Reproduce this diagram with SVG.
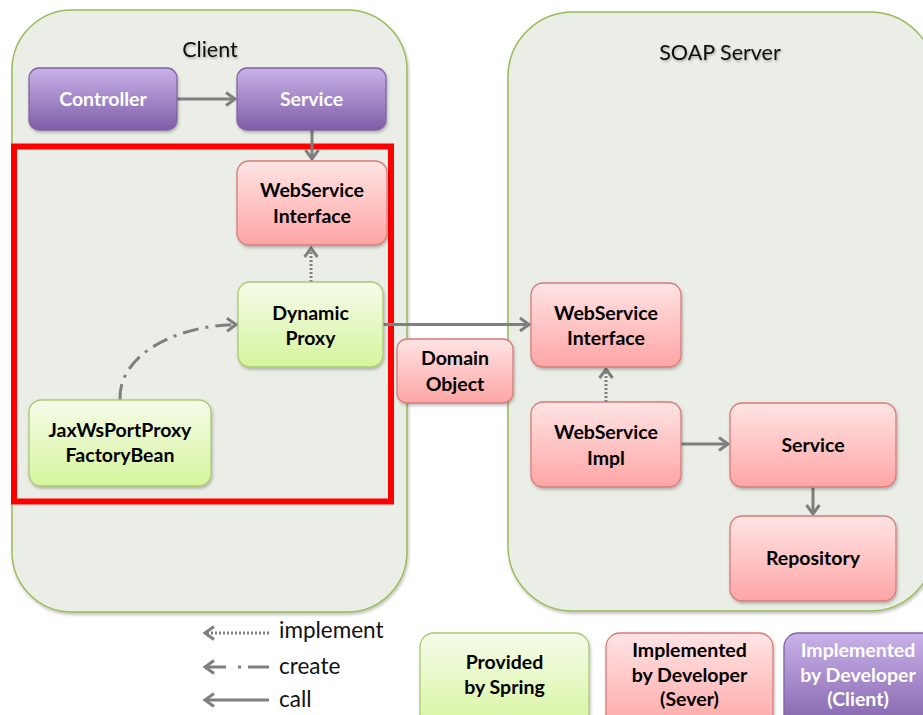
<svg xmlns="http://www.w3.org/2000/svg" width="923" height="715" viewBox="0 0 923 715">
  <defs>
    <linearGradient id="gPink" x1="0" y1="0" x2="0" y2="1">
      <stop offset="0" stop-color="#FFE4E4"/>
      <stop offset="1" stop-color="#FFA5A5"/>
    </linearGradient>
    <linearGradient id="gGreen" x1="0" y1="0" x2="0" y2="1">
      <stop offset="0" stop-color="#F6FBEA"/>
      <stop offset="1" stop-color="#D5F59C"/>
    </linearGradient>
    <linearGradient id="gPurple" x1="0" y1="0" x2="0" y2="1">
      <stop offset="0" stop-color="#C9B2EA"/>
      <stop offset="1" stop-color="#7E5EA7"/>
    </linearGradient>
    <filter id="sh" x="-10%" y="-10%" width="125%" height="130%">
      <feDropShadow dx="1" dy="2" stdDeviation="1.5" flood-color="#000" flood-opacity="0.25"/>
    </filter>
    <filter id="tsh" x="-10%" y="-30%" width="120%" height="170%">
      <feDropShadow dx="1" dy="1.5" stdDeviation="1" flood-color="#000" flood-opacity="0.3"/>
    </filter>
    <marker id="ah" viewBox="-12 -9 15 18" refX="0" refY="0" markerWidth="15" markerHeight="18" markerUnits="userSpaceOnUse" orient="auto">
      <path d="M-9,-6.5 L0,0 L-9,6.5" fill="none" stroke="#7F7F7F" stroke-width="3"/>
    </marker>
    <style>
      .cont { fill: #EBEEE6; stroke: #9BBB59; stroke-width: 1.5; }
      .title { font-family: Lato, "Open Sans", sans-serif; font-size: 21.5px; fill: #111; text-anchor: middle; }
      .pink { fill: url(#gPink); stroke: #D97A7A; stroke-width: 1.3; }
      .green { fill: url(#gGreen); stroke: #A9C973; stroke-width: 1.3; }
      .purple { fill: url(#gPurple); stroke: #8064A2; stroke-width: 1.3; }
      .lbl { font-family: Lato, "Open Sans", sans-serif; font-weight: bold; font-size: 19.5px; fill: #000; text-anchor: middle; }
      .wlbl { font-family: Lato, "Open Sans", sans-serif; font-weight: bold; font-size: 19.5px; fill: #FFFFFF; text-anchor: middle; }
      .leg { font-family: Lato, "Open Sans", sans-serif; font-size: 22.5px; fill: #111; }
      .call { fill: none; stroke: #7F7F7F; stroke-width: 3; }
      .impl { fill: none; stroke: #7F7F7F; stroke-width: 3; stroke-dasharray: 2 2; }
      .create { fill: none; stroke: #7F7F7F; stroke-width: 3; stroke-dasharray: 16 7 3 7; }
    </style>
  </defs>

  <!-- containers -->
  <g id="client-container">
    <rect class="cont" x="12" y="10" width="395" height="602" rx="60" filter="url(#sh)"/>
    <text class="title" x="210" y="57" filter="url(#tsh)">Client</text>
  </g>
  <g id="server-container">
    <rect class="cont" x="508" y="12" width="427" height="599" rx="65" filter="url(#sh)"/>
    <text class="title" x="720" y="60" filter="url(#tsh)">SOAP Server</text>
  </g>

  <!-- red highlight -->
  <g id="highlight">
    <rect x="14" y="146.5" width="377" height="355" fill="none" stroke="#FF0000" stroke-width="6"/>
  </g>

  <!-- connectors -->
  <g id="connectors">
    <line class="call" x1="177" y1="99" x2="235" y2="99" marker-end="url(#ah)"/>
    <line class="call" x1="312" y1="130" x2="312" y2="159" marker-end="url(#ah)"/>
    <line class="impl" x1="311" y1="282" x2="311" y2="248" marker-end="url(#ah)"/>
    <path class="create" d="M120,400 C118,358 170,326 236,324.5" marker-end="url(#ah)"/>
    <line class="call" x1="383" y1="324.5" x2="529" y2="324.5" marker-end="url(#ah)"/>
    <line class="impl" x1="606" y1="402" x2="606" y2="369" marker-end="url(#ah)"/>
    <line class="call" x1="681" y1="444" x2="728" y2="444" marker-end="url(#ah)"/>
    <line class="call" x1="813" y1="487" x2="813" y2="514" marker-end="url(#ah)"/>
  </g>

  <!-- client nodes -->
  <g id="controller">
    <rect class="purple" x="29" y="68" width="148" height="62" rx="10" filter="url(#sh)"/>
    <text class="wlbl" x="103" y="106">Controller</text>
  </g>
  <g id="client-service">
    <rect class="purple" x="237" y="68" width="149" height="62" rx="10" filter="url(#sh)"/>
    <text class="wlbl" x="311.5" y="106">Service</text>
  </g>
  <g id="client-ws-interface">
    <rect class="pink" x="237" y="161" width="150" height="84" rx="12" filter="url(#sh)"/>
    <text class="lbl" x="312" y="197">WebService</text>
    <text class="lbl" x="312" y="222.5">Interface</text>
  </g>
  <g id="dynamic-proxy">
    <rect class="green" x="238" y="282" width="145" height="85" rx="12" filter="url(#sh)"/>
    <text class="lbl" x="310.5" y="320">Dynamic</text>
    <text class="lbl" x="310.5" y="344.5">Proxy</text>
  </g>
  <g id="factory-bean">
    <rect class="green" x="29" y="400" width="182" height="86" rx="12" filter="url(#sh)"/>
    <text class="lbl" x="120" y="437">JaxWsPortProxy</text>
    <text class="lbl" x="120" y="462">FactoryBean</text>
  </g>

  <!-- middle -->
  <g id="domain-object">
    <rect class="pink" x="397" y="339" width="116" height="64" rx="10" filter="url(#sh)"/>
    <text class="lbl" x="455" y="365">Domain</text>
    <text class="lbl" x="455" y="390.5">Object</text>
  </g>

  <!-- server nodes -->
  <g id="server-ws-interface">
    <rect class="pink" x="531" y="283" width="150" height="84" rx="12" filter="url(#sh)"/>
    <text class="lbl" x="606" y="320">WebService</text>
    <text class="lbl" x="606" y="345">Interface</text>
  </g>
  <g id="ws-impl">
    <rect class="pink" x="531" y="402" width="150" height="85" rx="12" filter="url(#sh)"/>
    <text class="lbl" x="606" y="439">WebService</text>
    <text class="lbl" x="606" y="464.5">Impl</text>
  </g>
  <g id="server-service">
    <rect class="pink" x="730" y="403" width="166" height="84" rx="12" filter="url(#sh)"/>
    <text class="lbl" x="813" y="452">Service</text>
  </g>
  <g id="repository">
    <rect class="pink" x="730" y="516" width="166" height="85" rx="12" filter="url(#sh)"/>
    <text class="lbl" x="813" y="565">Repository</text>
  </g>

  <!-- legend -->
  <g id="legend-lines">
    <line class="impl" x1="269" y1="633" x2="205" y2="633" marker-end="url(#ah)"/>
    <text class="leg" x="279" y="638">implement</text>
    <path d="M269,667 L248,667 M241,667 L238,667 M226,667 L205,667" class="call" marker-end="url(#ah)"/>
    <text class="leg" x="279" y="674">create</text>
    <line class="call" x1="269" y1="700" x2="205" y2="700" marker-end="url(#ah)"/>
    <text class="leg" x="279" y="707">call</text>
  </g>
  <g id="legend-spring">
    <rect class="green" x="420" y="633" width="169" height="100" rx="14" filter="url(#sh)"/>
    <text class="lbl" x="504.5" y="669">Provided</text>
    <text class="lbl" x="504.5" y="694">by Spring</text>
  </g>
  <g id="legend-server">
    <rect class="pink" x="606" y="633" width="167" height="100" rx="14" filter="url(#sh)"/>
    <text class="lbl" x="689.5" y="657">Implemented</text>
    <text class="lbl" x="689.5" y="682">by Developer</text>
    <text class="lbl" x="689.5" y="706">(Sever)</text>
  </g>
  <g id="legend-client">
    <rect class="purple" x="784" y="633" width="160" height="100" rx="14" filter="url(#sh)"/>
    <text class="wlbl" x="858" y="657">Implemented</text>
    <text class="wlbl" x="858" y="682">by Developer</text>
    <text class="wlbl" x="858" y="706">(Client)</text>
  </g>
</svg>
